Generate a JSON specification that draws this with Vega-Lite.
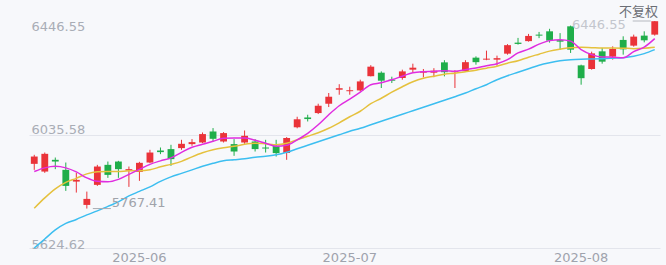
{
  "$schema": "https://vega.github.io/schema/vega-lite/v6.json",
  "width": 631,
  "height": 227,
  "autosize": "none",
  "padding": {"left": 29, "top": 21, "right": 6, "bottom": 17},
  "background": "#f7f8fb",
  "title": {"text": "不复权", "anchor": "end", "orient": "top", "font": "Noto Sans CJK SC", "fontSize": 13, "fontWeight": "normal", "color": "#6b6e75", "offset": 2, "baseline": "bottom", "frame": "group", "dy": 15, "dx": -2},
  "config": {"view": {"stroke": null}, "axis": {"labelFont": "DejaVu Sans"}},
  "data": {"values": [
    {"d": "2025-05-16", "o": 5929.3, "h": 5962.0, "l": 5907.6, "c": 5955.8, "m5": 5901.4, "m10": 5768.7, "m20": 5624.62},
    {"d": "2025-05-19", "o": 5901.4, "h": 5970.3, "l": 5896.7, "c": 5965.6, "m5": 5914.8, "m10": 5806.0, "m20": 5657.3},
    {"d": "2025-05-20", "o": 5943.9, "h": 5952.2, "l": 5910.1, "c": 5937.7, "m5": 5920.3, "m10": 5838.7, "m20": 5690.0},
    {"d": "2025-05-21", "o": 5907.6, "h": 5934.1, "l": 5831.4, "c": 5849.5, "m5": 5914.8, "m10": 5862.2, "m20": 5713.5},
    {"d": "2025-05-22", "o": 5865.1, "h": 5896.7, "l": 5825.3, "c": 5871.3, "m5": 5900.3, "m10": 5876.8, "m20": 5728.0},
    {"d": "2025-05-23", "o": 5780.6, "h": 5828.9, "l": 5767.41, "c": 5802.4, "m5": 5878.6, "m10": 5893.1, "m20": 5744.4},
    {"d": "2025-05-27", "o": 5853.2, "h": 5925.7, "l": 5849.5, "c": 5919.6, "m5": 5865.9, "m10": 5900.3, "m20": 5758.9},
    {"d": "2025-05-28", "o": 5925.7, "h": 5937.7, "l": 5878.6, "c": 5889.4, "m5": 5864.1, "m10": 5901.4, "m20": 5775.2},
    {"d": "2025-05-29", "o": 5937.7, "h": 5940.2, "l": 5878.6, "c": 5910.1, "m5": 5873.1, "m10": 5901.4, "m20": 5791.5},
    {"d": "2025-05-30", "o": 5905.0, "h": 5919.6, "l": 5845.9, "c": 5910.1, "m5": 5891.3, "m10": 5904.0, "m20": 5813.3},
    {"d": "2025-06-02", "o": 5900.3, "h": 5936.6, "l": 5867.7, "c": 5933.0, "m5": 5909.4, "m10": 5904.0, "m20": 5829.6},
    {"d": "2025-06-03", "o": 5934.1, "h": 5980.1, "l": 5931.9, "c": 5970.3, "m5": 5927.5, "m10": 5907.6, "m20": 5845.9},
    {"d": "2025-06-04", "o": 5977.6, "h": 5988.5, "l": 5964.5, "c": 5971.8, "m5": 5940.2, "m10": 5918.5, "m20": 5865.9},
    {"d": "2025-06-05", "o": 5982.7, "h": 5998.3, "l": 5922.1, "c": 5946.4, "m5": 5951.1, "m10": 5927.5, "m20": 5882.2},
    {"d": "2025-06-06", "o": 5986.3, "h": 6016.4, "l": 5980.1, "c": 6001.9, "m5": 5971.1, "m10": 5938.4, "m20": 5894.9},
    {"d": "2025-06-09", "o": 6000.8, "h": 6018.9, "l": 5994.6, "c": 6008.0, "m5": 5989.2, "m10": 5954.7, "m20": 5907.6},
    {"d": "2025-06-10", "o": 6006.6, "h": 6042.9, "l": 6004.4, "c": 6037.1, "m5": 6000.1, "m10": 5969.2, "m20": 5920.3},
    {"d": "2025-06-11", "o": 6046.5, "h": 6058.8, "l": 6010.2, "c": 6020.0, "m5": 6011.0, "m10": 5980.1, "m20": 5931.2},
    {"d": "2025-06-12", "o": 6010.2, "h": 6044.3, "l": 6006.6, "c": 6040.7, "m5": 6021.8, "m10": 5987.4, "m20": 5940.2},
    {"d": "2025-06-13", "o": 6000.8, "h": 6018.9, "l": 5958.4, "c": 5974.0, "m5": 6022.6, "m10": 5992.8, "m20": 5943.9},
    {"d": "2025-06-16", "o": 6006.6, "h": 6050.1, "l": 6001.9, "c": 6030.9, "m5": 6022.6, "m10": 6000.1, "m20": 5947.5},
    {"d": "2025-06-17", "o": 6010.2, "h": 6018.9, "l": 5974.0, "c": 5982.7, "m5": 6014.6, "m10": 6003.7, "m20": 5952.9},
    {"d": "2025-06-18", "o": 5988.5, "h": 6016.4, "l": 5970.3, "c": 5984.8, "m5": 6003.7, "m10": 6001.9, "m20": 5956.5},
    {"d": "2025-06-20", "o": 5994.6, "h": 6016.4, "l": 5955.8, "c": 5968.2, "m5": 5992.8, "m10": 5998.3, "m20": 5962.0},
    {"d": "2025-06-23", "o": 5968.2, "h": 6026.2, "l": 5943.9, "c": 6022.6, "m5": 5996.4, "m10": 6003.7, "m20": 5971.1},
    {"d": "2025-06-24", "o": 6061.7, "h": 6099.8, "l": 6058.1, "c": 6090.7, "m5": 6016.4, "m10": 6016.4, "m20": 5983.7},
    {"d": "2025-06-25", "o": 6097.3, "h": 6107.1, "l": 6082.8, "c": 6091.5, "m5": 6040.0, "m10": 6029.1, "m20": 5996.4},
    {"d": "2025-06-26", "o": 6113.2, "h": 6147.0, "l": 6109.6, "c": 6139.7, "m5": 6070.8, "m10": 6041.8, "m20": 6009.1},
    {"d": "2025-06-27", "o": 6147.0, "h": 6185.8, "l": 6135.0, "c": 6172.4, "m5": 6107.1, "m10": 6058.1, "m20": 6021.8},
    {"d": "2025-06-30", "o": 6197.7, "h": 6217.7, "l": 6179.6, "c": 6203.2, "m5": 6139.7, "m10": 6078.0, "m20": 6034.5},
    {"d": "2025-07-01", "o": 6192.3, "h": 6208.6, "l": 6179.6, "c": 6195.9, "m5": 6163.3, "m10": 6099.8, "m20": 6047.2},
    {"d": "2025-07-02", "o": 6195.2, "h": 6234.0, "l": 6191.6, "c": 6227.8, "m5": 6188.7, "m10": 6119.8, "m20": 6058.1},
    {"d": "2025-07-03", "o": 6246.7, "h": 6286.6, "l": 6246.0, "c": 6281.2, "m5": 6215.9, "m10": 6147.0, "m20": 6070.8},
    {"d": "2025-07-07", "o": 6259.4, "h": 6264.1, "l": 6203.9, "c": 6230.4, "m5": 6223.1, "m10": 6166.9, "m20": 6083.5},
    {"d": "2025-07-08", "o": 6234.0, "h": 6244.9, "l": 6222.0, "c": 6230.4, "m5": 6234.0, "m10": 6188.7, "m20": 6096.2},
    {"d": "2025-07-09", "o": 6240.2, "h": 6270.3, "l": 6234.0, "c": 6264.1, "m5": 6246.7, "m10": 6208.6, "m20": 6108.9},
    {"d": "2025-07-10", "o": 6270.3, "h": 6292.0, "l": 6260.5, "c": 6277.5, "m5": 6259.4, "m10": 6226.8, "m20": 6121.6},
    {"d": "2025-07-11", "o": 6259.4, "h": 6272.8, "l": 6242.4, "c": 6264.1, "m5": 6263.0, "m10": 6239.5, "m20": 6134.3},
    {"d": "2025-07-14", "o": 6259.4, "h": 6275.7, "l": 6243.1, "c": 6266.7, "m5": 6264.1, "m10": 6246.7, "m20": 6147.0},
    {"d": "2025-07-15", "o": 6296.8, "h": 6304.7, "l": 6246.0, "c": 6261.2, "m5": 6266.7, "m10": 6254.0, "m20": 6159.7},
    {"d": "2025-07-16", "o": 6261.2, "h": 6268.5, "l": 6203.9, "c": 6264.8, "m5": 6264.8, "m10": 6257.6, "m20": 6172.4},
    {"d": "2025-07-17", "o": 6264.8, "h": 6304.7, "l": 6263.0, "c": 6297.5, "m5": 6270.3, "m10": 6263.0, "m20": 6185.8},
    {"d": "2025-07-18", "o": 6313.8, "h": 6318.5, "l": 6288.4, "c": 6297.5, "m5": 6276.4, "m10": 6268.5, "m20": 6201.4},
    {"d": "2025-07-21", "o": 6306.6, "h": 6339.2, "l": 6304.7, "c": 6310.2, "m5": 6284.8, "m10": 6275.7, "m20": 6215.9},
    {"d": "2025-07-22", "o": 6306.6, "h": 6321.1, "l": 6284.8, "c": 6312.0, "m5": 6292.0, "m10": 6283.0, "m20": 6234.0},
    {"d": "2025-07-23", "o": 6328.3, "h": 6362.8, "l": 6324.7, "c": 6359.1, "m5": 6306.6, "m10": 6293.9, "m20": 6248.5},
    {"d": "2025-07-24", "o": 6368.2, "h": 6385.3, "l": 6361.0, "c": 6363.5, "m5": 6330.9, "m10": 6302.9, "m20": 6261.2},
    {"d": "2025-07-25", "o": 6373.7, "h": 6399.8, "l": 6371.8, "c": 6392.5, "m5": 6344.6, "m10": 6315.6, "m20": 6273.9},
    {"d": "2025-07-28", "o": 6397.2, "h": 6407.0, "l": 6384.5, "c": 6393.6, "m5": 6362.8, "m10": 6326.5, "m20": 6286.6},
    {"d": "2025-07-29", "o": 6409.2, "h": 6418.3, "l": 6368.2, "c": 6375.5, "m5": 6375.5, "m10": 6337.4, "m20": 6295.7},
    {"d": "2025-07-30", "o": 6377.3, "h": 6402.7, "l": 6342.8, "c": 6371.8, "m5": 6379.1, "m10": 6344.6, "m20": 6302.9},
    {"d": "2025-07-31", "o": 6427.3, "h": 6429.9, "l": 6330.9, "c": 6342.8, "m5": 6373.7, "m10": 6350.1, "m20": 6306.6},
    {"d": "2025-08-01", "o": 6285.9, "h": 6288.4, "l": 6215.9, "c": 6239.5, "m5": 6342.8, "m10": 6351.2, "m20": 6308.4},
    {"d": "2025-08-04", "o": 6272.8, "h": 6335.6, "l": 6270.3, "c": 6329.4, "m5": 6324.7, "m10": 6350.1, "m20": 6309.1},
    {"d": "2025-08-05", "o": 6336.7, "h": 6349.0, "l": 6292.0, "c": 6299.3, "m5": 6316.3, "m10": 6349.0, "m20": 6310.2},
    {"d": "2025-08-06", "o": 6317.4, "h": 6354.8, "l": 6306.6, "c": 6345.4, "m5": 6315.6, "m10": 6349.0, "m20": 6312.0},
    {"d": "2025-08-07", "o": 6378.0, "h": 6391.1, "l": 6324.7, "c": 6343.9, "m5": 6313.8, "m10": 6348.3, "m20": 6313.8},
    {"d": "2025-08-08", "o": 6357.3, "h": 6397.2, "l": 6353.7, "c": 6390.0, "m5": 6335.6, "m10": 6346.5, "m20": 6319.2},
    {"d": "2025-08-11", "o": 6393.6, "h": 6409.2, "l": 6369.3, "c": 6376.6, "m5": 6351.9, "m10": 6348.3, "m20": 6328.3},
    {"d": "2025-08-12", "o": 6397.2, "h": 6446.55, "l": 6393.6, "c": 6445.8, "m5": 6382.7, "m10": 6351.9, "m20": 6342.8}
  ]},
  "encoding": {
    "x": {
      "field": "d", "type": "ordinal", "title": null,
      "scale": {"paddingInner": 0, "paddingOuter": 0},
      "axis": {"values": ["2025-06-02", "2025-07-01", "2025-08-01"], "labelExpr": "slice(datum.value, 0, 7)", "ticks": false, "domain": false, "grid": false, "labelAngle": 0, "labelFontSize": 13, "labelColor": "#9fa3ad", "labelPadding": 3, "title": null}
    }
  },
  "layer": [
    {
      "mark": {"type": "rule", "strokeWidth": 1},
      "encoding": {
        "y": {
          "field": "l", "type": "quantitative", "title": null,
          "scale": {"domain": [5624.62, 6446.55], "nice": false, "zero": false},
          "axis": {
            "values": [5624.62, 6035.58, 6446.55], "format": ".2f", "orient": "left", "ticks": false, "domain": false,
            "labelAlign": "left", "labelPadding": -2, "labelBaseline": "alphabetic", "labelFontSize": 13, "labelColor": "#a9adb6",
            "labelOffset": {"condition": [{"test": "datum.value > 6400", "value": 9}, {"test": "datum.value > 6000", "value": -1.5}], "value": 0},
            "gridColor": {"condition": {"test": "datum.value > 6400", "value": "transparent"}, "value": "#e3e5ec"},
            "title": null
          }
        },
        "y2": {"field": "h"},
        "color": {"condition": {"test": "datum.c >= datum.o", "value": "#ea3339"}, "value": "#1fae4a"}
      }
    },
    {
      "mark": {"type": "bar", "width": {"band": 0.65}},
      "encoding": {
        "y": {"field": "o", "type": "quantitative", "title": null},
        "y2": {"field": "c"},
        "color": {"condition": {"test": "datum.c >= datum.o", "value": "#ea3339"}, "value": "#1fae4a"}
      }
    },
    {
      "mark": {"type": "line", "color": "#3cbef0", "strokeWidth": 1.5, "interpolate": "monotone"},
      "encoding": {"y": {"field": "m20", "type": "quantitative", "title": null}}
    },
    {
      "mark": {"type": "line", "color": "#e5c13d", "strokeWidth": 1.5, "interpolate": "monotone"},
      "encoding": {"y": {"field": "m10", "type": "quantitative", "title": null}}
    },
    {
      "mark": {"type": "line", "color": "#e02de0", "strokeWidth": 1.5, "interpolate": "monotone"},
      "encoding": {"y": {"field": "m5", "type": "quantitative", "title": null}}
    },
    {
      "data": {"values": [{"d": "2025-05-23", "d2": "2025-05-28", "v": 5767.41}]},
      "mark": {"type": "rule", "color": "#a8abb2", "strokeWidth": 1, "xOffset": 6, "x2Offset": 3},
      "encoding": {"x2": {"field": "d2"}, "y": {"field": "v", "type": "quantitative", "title": null}}
    },
    {
      "data": {"values": [{"d": "2025-05-23", "v": 5767.41, "t": "5767.41"}]},
      "mark": {"type": "text", "align": "left", "baseline": "alphabetic", "dx": 25, "dy": -1.5, "font": "DejaVu Sans", "fontSize": 13, "color": "#a0a3aa"},
      "encoding": {"y": {"field": "v", "type": "quantitative", "title": null}, "text": {"field": "t"}}
    },
    {
      "data": {"values": [{"d": "2025-08-08", "d2": "2025-08-12", "v": 6446.55}]},
      "mark": {"type": "rule", "color": "#b5b8bf", "strokeWidth": 1, "xOffset": -1, "x2Offset": -4},
      "encoding": {"x2": {"field": "d2"}, "y": {"field": "v", "type": "quantitative", "title": null}}
    },
    {
      "data": {"values": [{"d": "2025-08-08", "v": 6446.55, "t": "6446.55"}]},
      "mark": {"type": "text", "align": "right", "baseline": "alphabetic", "dx": -8, "dy": 8, "font": "DejaVu Sans", "fontSize": 13, "color": "#c3c6cd"},
      "encoding": {"y": {"field": "v", "type": "quantitative", "title": null}, "text": {"field": "t"}}
    }
  ]
}
